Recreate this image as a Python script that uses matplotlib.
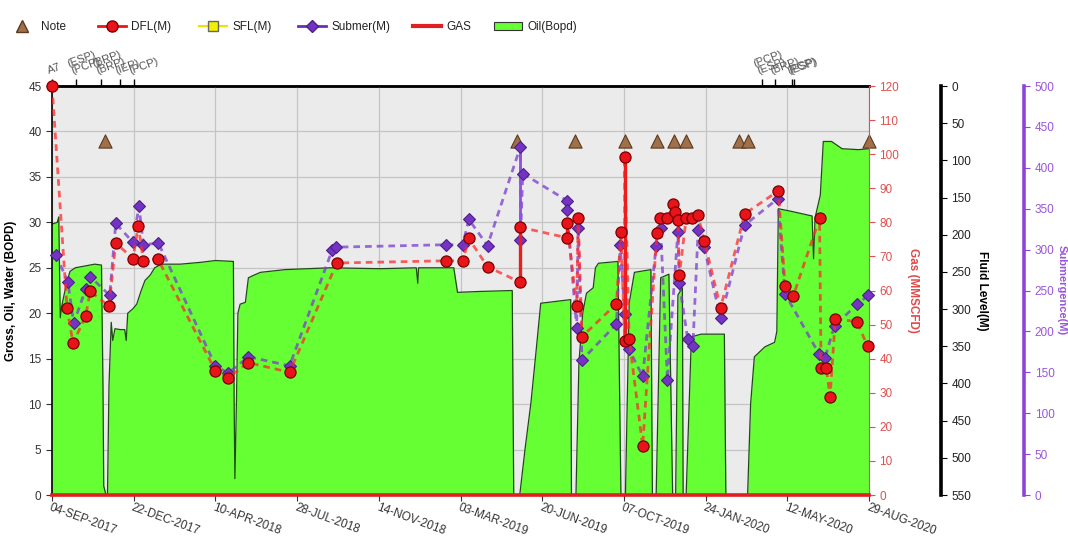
import matplotlib
matplotlib.use("Agg")
import matplotlib.pyplot as plt
import matplotlib.dates as mdates
from matplotlib.lines import Line2D
from matplotlib.patches import Patch
from matplotlib.ticker import NullFormatter
import pandas as pd

plt.rcParams["font.family"] = ["Liberation Sans", "DejaVu Sans"]
plt.rcParams["font.size"] = 8.5

# ---- well data -------------------------------------------------------------
oil_dates = [
    "2017-09-04", "2017-09-11", "2017-09-13", "2017-09-15", "2017-09-17", "2017-09-20",
    "2017-09-24", "2017-09-28", "2017-10-05", "2017-10-18", "2017-10-31", "2017-11-09",
    "2017-11-11", "2017-11-12", "2017-11-15",
    "2017-11-17", "2017-11-19", "2017-11-22", "2017-11-24", "2017-11-27", "2017-12-04",
    "2017-12-10", "2017-12-12", "2017-12-14", "2017-12-21", "2017-12-26", "2018-01-01",
    "2018-01-06", "2018-01-13", "2018-01-19", "2018-01-28", "2018-02-22", "2018-03-21",
    "2018-04-10", "2018-05-04", "2018-05-05", "2018-05-06", "2018-05-08", "2018-05-10",
    "2018-05-13", "2018-05-20", "2018-05-24", "2018-05-29", "2018-06-09", "2018-07-12",
    "2018-09-10", "2018-11-16", "2019-01-03", "2019-01-05", "2019-01-06", "2019-02-22",
    "2019-02-27", "2019-03-30", "2019-05-11", "2019-05-13",
    "2019-05-21", "2019-05-28", "2019-06-05", "2019-06-12", "2019-06-18", "2019-07-08",
    "2019-07-28", "2019-07-29",
    "2019-08-04", "2019-08-08", "2019-08-13", "2019-08-18", "2019-08-27", "2019-08-30",
    "2019-09-03", "2019-09-29", "2019-10-03",
    "2019-10-09", "2019-10-14", "2019-10-21", "2019-11-12", "2019-11-14",
    "2019-11-19", "2019-11-25", "2019-12-06", "2019-12-11",
    "2019-12-15", "2019-12-18", "2019-12-24", "2019-12-25",
    "2019-12-29", "2020-01-05", "2020-01-18", "2020-02-18", "2020-02-20",
    "2020-03-20", "2020-03-24", "2020-03-29", "2020-04-12", "2020-04-25", "2020-04-28",
    "2020-04-30", "2020-05-18", "2020-06-14", "2020-06-16", "2020-06-18", "2020-06-25",
    "2020-06-29", "2020-07-10", "2020-07-24", "2020-08-15", "2020-08-29",
]
oil_bopd = [
    29.8, 30.0, 30.6, 19.5, 20.8, 22.0, 23.5, 24.6, 25.0, 25.2, 25.4, 25.3, 12.0, 1.0, 0,
    0, 12.0, 19.0, 17.0, 18.3, 18.2, 18.2, 17.0, 20.0, 20.5, 21.0, 22.5, 23.6, 24.2,
    25.0, 25.4, 25.4, 25.6, 25.8, 25.7, 10.0, 1.8, 10.0, 20.0, 21.0, 21.2, 23.9, 24.1,
    24.5, 24.8, 25.0, 24.9, 25.0, 23.3, 25.0, 25.0, 22.3, 22.4, 22.5, 0,
    0, 5.0, 10.2, 16.0, 21.1, 21.3, 21.5, 0,
    0, 14.6, 20.0, 22.2, 22.8, 25.0, 25.5, 25.7, 0,
    0, 21.1, 24.5, 24.8, 0,
    0, 23.9, 24.3, 0,
    0, 22.0, 22.8, 0,
    0, 17.4, 17.7, 17.7, 0,
    0, 10.0, 15.2, 16.3, 16.8, 18.0, 31.5, 31.2, 30.7, 26.0, 30.5, 33.0,
    38.9, 38.9, 38.1, 38.0, 38.1,
]

gas_dates = ["2017-09-04", "2018-09-01", "2019-09-01", "2020-08-29"]
gas_mmscfd = [0, 0, 0, 0]

dfl_dates = [
    "2017-09-04", "2017-09-24", "2017-10-02", "2017-10-19", "2017-10-25", "2017-11-19",
    "2017-11-28", "2017-12-21", "2017-12-28", "2018-01-04", "2018-01-23", "2018-04-10",
    "2018-04-27", "2018-05-24", "2018-07-18", "2018-09-19", "2019-02-12", "2019-03-06",
    "2019-03-14", "2019-04-08", "2019-05-22", "2019-05-22", "2019-07-23", "2019-07-23",
    "2019-08-05", "2019-08-07", "2019-08-12", "2019-09-27", "2019-10-03", "2019-10-08",
    "2019-10-08", "2019-10-14", "2019-11-01", "2019-11-20", "2019-11-24", "2019-12-04",
    "2019-12-12", "2019-12-14", "2019-12-18", "2019-12-20", "2019-12-29", "2020-01-06",
    "2020-01-14", "2020-01-22", "2020-02-13", "2020-03-16", "2020-04-30", "2020-05-09",
    "2020-05-20", "2020-06-24", "2020-06-26", "2020-07-03", "2020-07-08", "2020-07-15",
    "2020-08-13", "2020-08-27",
]
dfl_m = [
    0, 298, 346, 309, 276, 296, 211, 232, 188, 235, 232, 383,
    392, 372, 385, 238, 235, 235, 205, 243, 264, 190, 204, 184,
    296, 177, 337, 293, 196, 343, 95, 340, 484, 198, 178, 178,
    159, 169, 180, 254, 178, 178, 174, 208, 298, 172, 141, 269,
    282, 178, 379, 379, 418, 313, 317, 350,
]

sub_dates = [
    "2017-09-09", "2017-09-25", "2017-10-03", "2017-10-19", "2017-10-25", "2017-11-20",
    "2017-11-28", "2017-12-21", "2017-12-29", "2018-01-04", "2018-01-24", "2018-04-10",
    "2018-04-27", "2018-05-24", "2018-07-18", "2018-09-13", "2018-09-18", "2019-02-12",
    "2019-03-06", "2019-03-14", "2019-04-08", "2019-05-22", "2019-05-22", "2019-05-25",
    "2019-07-23", "2019-07-23", "2019-08-05", "2019-08-07", "2019-08-12", "2019-09-27",
    "2019-10-02", "2019-10-08", "2019-10-14", "2019-11-01", "2019-11-19", "2019-11-25",
    "2019-12-04", "2019-12-18", "2019-12-20", "2019-12-31", "2020-01-07", "2020-01-14",
    "2020-01-22", "2020-02-13", "2020-03-16", "2020-04-29", "2020-05-09", "2020-06-23",
    "2020-07-01", "2020-07-14", "2020-08-13", "2020-08-28",
]
sub_m = [
    294, 261, 210, 252, 267, 244, 332, 309, 353, 306, 308, 158,
    149, 169, 158, 300, 303, 306, 306, 337, 305, 426, 312, 393,
    360, 348, 204, 326, 165, 209, 306, 221, 178, 145, 305, 326,
    141, 322, 259, 191, 182, 324, 303, 216, 330, 362, 246, 173,
    167, 207, 233, 244,
]

note_dates = ["2017-11-14", "2019-05-17", "2019-08-03", "2019-10-09", "2019-11-20",
              "2019-12-13", "2019-12-29", "2020-03-09", "2020-03-21", "2020-08-29"]
note_level = [39, 39, 39, 39, 39, 39, 39, 39, 39, 39]

event_dates = ["2017-09-04", "2017-10-06", "2017-10-06", "2017-11-08", "2017-11-08",
               "2017-12-04", "2017-12-23", "2020-04-08", "2020-04-08", "2020-04-25",
               "2020-05-18", "2020-05-21"]
event_labels = ["A7", "(PCP)", "(ESP)", "(BRP)", "(BRP)", "(IEP)", "(PCP)",
                "(ESP)", "(PCP)", "(BRP)", "(PCP)", "(ESP)"]

start, end = pd.Timestamp("2017-09-04"), pd.Timestamp("2020-08-29")

# ---- colours ---------------------------------------------------------------
GREEN = "#66ff33"
RED = "#ff2a2a"
PURPLE = "#7a3cd0"
BROWN = "#a0704a"
GAS_RED = "#e02020"


def to_dt(values):
    return pd.to_datetime(values)


def same_day_links(axis, dates, vals, color, lw):
    # readings taken on the same day are joined with a solid line
    for i in range(1, len(dates)):
        if dates[i] == dates[i - 1]:
            axis.plot([dates[i - 1], dates[i]], [vals[i - 1], vals[i]],
                      color=color, lw=lw, solid_capstyle="butt", zorder=3)


fig = plt.figure(figsize=(10.68, 5.4), dpi=100)
ax = fig.add_axes([0.0487, 0.0833, 0.765, 0.7574])
ax.set_facecolor("#ebebeb")

oil_x = to_dt(oil_dates)
ax.fill_between(oil_x, oil_bopd, 0, color=GREEN, lw=0, zorder=1)
ax.plot(oil_x, oil_bopd, color="#1f4a16", lw=0.9, zorder=1.5)

ax.scatter(to_dt(note_dates), note_level, marker="^", s=90, color=BROWN,
           edgecolors="#5a3a20", linewidths=0.8, zorder=5, clip_on=False)

ax.set_xlim(start, end)
ax.set_ylim(0, 45)
ax.set_yticks(range(0, 46, 5))
xt = pd.date_range(start, end, periods=11)
ax.set_xticks(xt)
ax.set_xticklabels([t.strftime("%d-%b-%Y").upper() for t in xt])
for lab in ax.get_xticklabels():
    lab.set_rotation(-20)
    lab.set_ha("left")
    lab.set_va("top")
    lab.set_rotation_mode("anchor")
    lab.set_fontsize(8.2)
ax.tick_params(axis="both", length=4, color="#333333", labelcolor="#333333", labelsize=8.5)
ax.tick_params(axis="x", pad=1)
ax.grid(True, color="#c4c4c4", lw=0.9)
ax.set_axisbelow(True)
ax.spines["right"].set_visible(False)
ax.spines["top"].set_linewidth(1.8)
ax.spines["left"].set_linewidth(1.2)
ax.set_ylabel("Gross, Oil, Water (BOPD)", fontweight="bold", labelpad=8)

# event markers along the top edge
sec = ax.secondary_xaxis("top")
sec.set_xticks(mdates.date2num(to_dt(sorted(set(event_dates)))))
sec.xaxis.set_major_formatter(NullFormatter())
sec.tick_params(length=5, width=1, color="black")
sec.spines["top"].set_linewidth(1.8)
seen = {}
for d, lab in zip(event_dates, event_labels):
    k = seen.get(d, 0)
    seen[d] = k + 1
    ax.annotate(lab, (pd.Timestamp(d), 1.0), xycoords=("data", "axes fraction"),
                xytext=(-2 - 3 * k, 7 + 5 * k), textcoords="offset points",
                rotation=20, ha="left", va="bottom", rotation_mode="anchor",
                fontsize=8, color="#555555", annotation_clip=False)

# gas axis
gx = ax.twinx()
gx.set_ylim(0, 120)
gx.set_yticks(range(0, 121, 10))
gx.plot(to_dt(gas_dates), gas_mmscfd, color=GAS_RED, lw=2.6, clip_on=False, zorder=4)
for s in ("left", "top", "bottom"):
    gx.spines[s].set_visible(False)
gx.spines["right"].set_color("#e05050")
gx.tick_params(axis="y", length=4, color="#e05050", labelcolor="#e05050", labelsize=8.5)
gx.set_ylabel("Gas (MMSCFD)", color="#e04a4a", fontweight="bold", rotation=270,
              labelpad=14)

# submergence axis
px = ax.twinx()
px.spines["right"].set_position(("axes", 1.19))
px.set_ylim(0, 500)
px.set_yticks(range(0, 501, 50))
sub_x = to_dt(sub_dates)
px.plot(sub_x, sub_m, color=PURPLE, lw=2, alpha=0.75, ls=(0, (2.4, 1.8)), zorder=3)
same_day_links(px, list(sub_x), sub_m, "#9050e0", 2)
px.plot(sub_x, sub_m, ls="none", marker="D", ms=6.5, mfc="#7433c4", mec="#4b2285",
        mew=0.8, zorder=4, clip_on=False)
for s in ("left", "top", "bottom"):
    px.spines[s].set_visible(False)
px.spines["right"].set_color("#8e44d8")
px.spines["right"].set_linewidth(2.6)
px.tick_params(axis="y", length=4, color="#8e44d8", labelcolor="#9955dd", labelsize=8.5)
px.set_ylabel("Submergence(M)", color="#9955dd", fontweight="bold", rotation=270,
              labelpad=9, fontsize=8)

# fluid level axis
fx = ax.twinx()
fx.spines["right"].set_position(("axes", 1.088))
fx.set_ylim(550, 0)
fx.set_yticks(range(0, 551, 50))
dfl_x = to_dt(dfl_dates)
fx.plot(dfl_x, dfl_m, color=RED, lw=2, alpha=0.75, ls=(0, (2.4, 1.8)), zorder=3)
same_day_links(fx, list(dfl_x), dfl_m, "#ee1c1c", 2.4)
fx.plot(dfl_x, dfl_m, ls="none", marker="o", ms=8, mfc="#e8141a", mec="#7a0000",
        mew=0.9, zorder=4, clip_on=False)
for s in ("left", "top", "bottom"):
    fx.spines[s].set_visible(False)
fx.spines["right"].set_color("black")
fx.spines["right"].set_linewidth(2.6)
fx.tick_params(axis="y", length=4, color="black", labelcolor="#222222", labelsize=8.5)
fx.set_ylabel("Fluid Level(M)", color="black", fontweight="bold", rotation=270,
              labelpad=12)

# legend row
entries = [
    (Line2D([], [], ls="none", marker="^", ms=9, mfc=BROWN, mec="#5a3a20"), "Note", 8),
    (Line2D([], [], color="#e81818", lw=2, marker="o", ms=8, mfc="#e8141a", mec="#7a0000"),
     "DFL(M)", 98),
    (Line2D([], [], color="#e6e600", lw=1.5, marker="s", ms=7, mfc="#f0f000", mec="#666666"),
     "SFL(M)", 199),
    (Line2D([], [], color="#6a2fb8", lw=2, marker="D", ms=6, mfc="#7433c4", mec="#4b2285"),
     "Submer(M)", 298),
    (Line2D([], [], color=GAS_RED, lw=3), "GAS", 413),
    (Patch(facecolor=GREEN, edgecolor="#333333", lw=0.8), "Oil(Bopd)", 494),
]
for handle, label, x0 in entries:
    fig.legend(handles=[handle], labels=[label], loc="center left",
               bbox_to_anchor=(x0 / 1068, 1 - 27 / 540), frameon=False,
               borderpad=0, borderaxespad=0, handlelength=2.4, handletextpad=0.4,
               fontsize=8.5, labelcolor="#222222")

fig.savefig("out.png", dpi=100)
